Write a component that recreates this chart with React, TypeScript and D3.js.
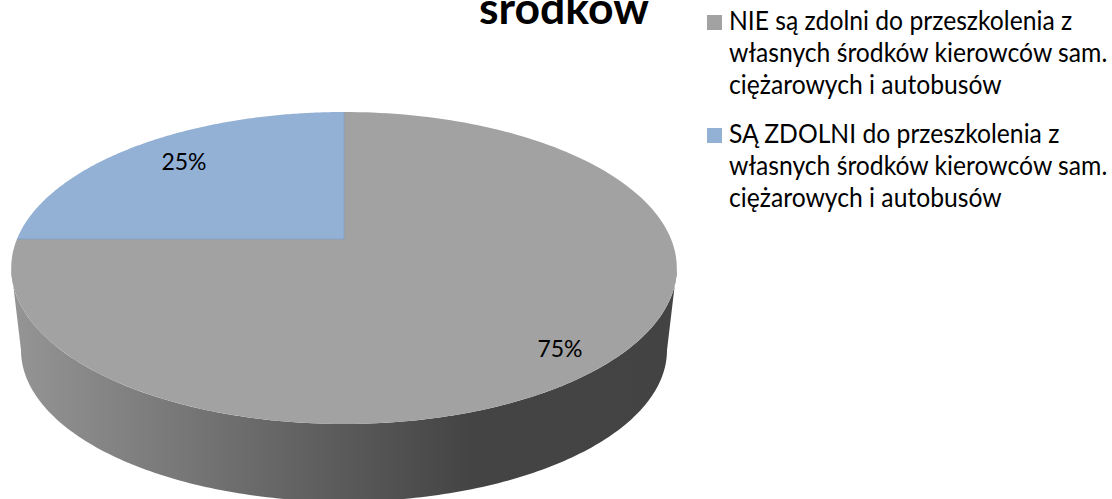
import { useEffect, useRef } from 'react';
import * as d3 from 'd3';

const categories = [
  'NIE są zdolni do przeszkolenia z własnych środków kierowców sam. ciężarowych i autobusów',
  'SĄ ZDOLNI do przeszkolenia z własnych środków kierowców sam. ciężarowych i autobusów',
];
const values = [75, 25];
const percentLabels = ['75%', '25%'];
const legendLines = [
  ['NIE są zdolni do przeszkolenia z', 'własnych środków kierowców sam.', 'ciężarowych i autobusów'],
  ['SĄ ZDOLNI do przeszkolenia z', 'własnych środków kierowców sam.', 'ciężarowych i autobusów'],
];
const colors = ['#a2a2a2', '#93b0d5'];
const titleText = 'środków';

const FONT = "Lato, 'Open Sans', sans-serif";

export default function App() {
  const svgRef = useRef<SVGSVGElement>(null);

  useEffect(() => {
    if (!svgRef.current) return;
    const width = 1112;
    const height = 499;
    const svg = d3.select(svgRef.current).attr('width', width).attr('height', height);
    svg.selectAll('*').remove();

    // perspective disc, the pie centre sits above the middle of the ellipse
    const cx = 344;
    const cy = 239;
    const k = 0.186;
    const project = (a: number, scale: number, dy: number): [number, number] => {
      const u = Math.sin(a);
      const v = -Math.cos(a);
      const w = 1 - k * v;
      return [cx + (327 * scale * u) / w, cy + dy + (150.6 * scale * v) / w];
    };
    const arcPoints = (a0: number, a1: number, scale: number, dy: number) =>
      d3.range(0, 181).map(i => project(a0 + ((a1 - a0) * i) / 180, scale, dy));

    const line = d3.line();
    const pie = d3.pie<number>().sort(null).startAngle(0).endAngle(2 * Math.PI);
    const slices = pie(values);

    const defs = svg.append('defs');
    const grad = defs.append('linearGradient')
      .attr('id', 'wall')
      .attr('gradientUnits', 'userSpaceOnUse')
      .attr('x1', 12).attr('x2', 676).attr('y1', 0).attr('y2', 0);
    [[0, '#959595'], [0.283, '#747474'], [0.5, '#5a5a5a'], [0.69, '#444444'], [1, '#434343']].forEach(([o, c]) => {
      grad.append('stop').attr('offset', o as number).attr('stop-color', c as string);
    });

    // side wall: outline of the lower rim, closed along the upper rim
    const a0 = Math.PI - Math.acos(k);
    const a1 = Math.PI + Math.acos(k);
    const lower = arcPoints(a0, a1, 0.9705, 83);
    const upper = arcPoints(a0, a1, 1, 0).reverse();
    svg.append('path')
      .attr('d', line([...lower, ...upper]) + 'Z')
      .attr('fill', 'url(#wall)');

    // top face
    slices.forEach((s, i) => {
      const pts = arcPoints(s.startAngle, s.endAngle, 1, 0);
      svg.append('path')
        .attr('d', line([[cx, cy], ...pts]) + 'Z')
        .attr('fill', colors[i]);
    });
    svg.append('path')
      .attr('d', line([[cx, 112], [cx, cy], project(1.5 * Math.PI, 1, 0)]))
      .attr('fill', 'none')
      .attr('stroke', '#83a2ca')
      .attr('stroke-width', 0.7);

    // data labels
    svg.append('text').attr('x', 560).attr('y', 357).attr('text-anchor', 'middle')
      .attr('font-family', FONT).attr('font-size', 23).attr('fill', '#000').text(percentLabels[0]);
    svg.append('text').attr('x', 184).attr('y', 170).attr('text-anchor', 'middle')
      .attr('font-family', FONT).attr('font-size', 23).attr('fill', '#000').text(percentLabels[1]);

    // title is cut by the top edge of the picture
    svg.append('text').attr('x', 479).attr('y', 24)
      .attr('font-family', FONT).attr('font-weight', 700).attr('font-size', 44.5).attr('fill', '#000').text(titleText);

    // legend
    const legendTop = [15, 128];
    const g = svg.append('g').attr('aria-label', categories.join(' / '));
    legendLines.forEach((rows, i) => {
      g.append('rect').attr('x', 707).attr('y', legendTop[i]).attr('width', 15).attr('height', 15).attr('fill', colors[i]);
      rows.forEach((row, j) => {
        g.append('text')
          .attr('transform', `translate(729,${legendTop[i] + 15 + j * 32.2}) scale(0.95,1)`)
          .attr('font-family', FONT).attr('font-size', 26).attr('fill', '#000').text(row);
      });
    });
  }, []);

  return <svg ref={svgRef} style={{ position: 'absolute', left: 0, top: 0, display: 'block' }} />;
}
